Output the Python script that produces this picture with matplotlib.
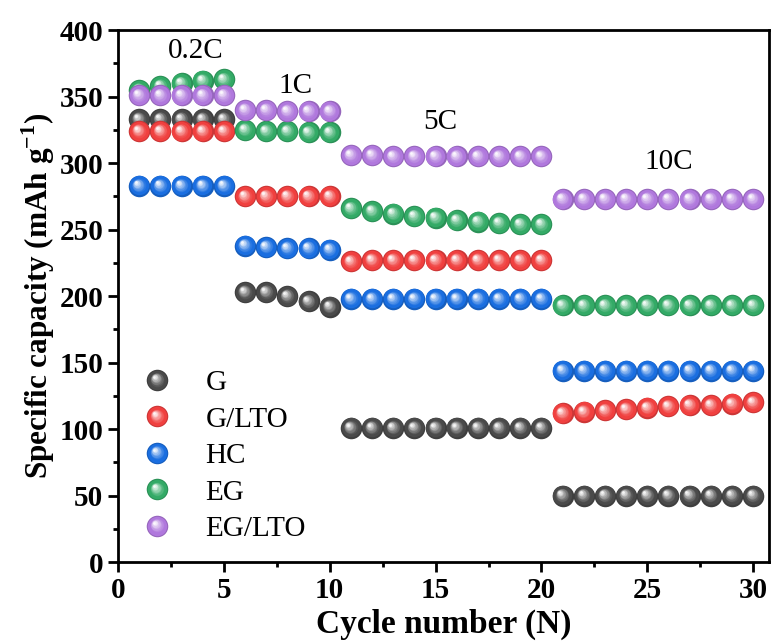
import numpy as np
import matplotlib
matplotlib.use('Agg')
import matplotlib.pyplot as plt
from matplotlib.lines import Line2D
from matplotlib.legend_handler import HandlerBase
from matplotlib.transforms import offset_copy
from matplotlib.ticker import MultipleLocator
import matplotlib.colors as mcolors

plt.rcParams['font.family'] = ['Liberation Serif', 'DejaVu Serif']
plt.rcParams['mathtext.fontset'] = 'custom'
plt.rcParams['mathtext.rm'] = 'Liberation Serif'
plt.rcParams['mathtext.bf'] = 'Liberation Serif:bold'

# cycle numbers
cycles = np.arange(1, 31)

# capacities (mAh g-1)
g = [333, 333, 333, 333, 333,
     203, 203, 200, 196, 192,
     101, 101, 101, 101, 101, 101, 101, 101, 101, 101,
     50, 50, 50, 50, 50, 50, 50, 50, 50, 50]
g_lto = [324, 324, 324, 324, 324,
         275, 275, 275, 275, 275,
         226, 227, 227, 227, 227, 227, 227, 227, 227, 227,
         112, 113, 114, 115, 116, 117, 118, 118, 119, 120]
hc = [283, 283, 283, 283, 283,
      238, 237, 236, 236, 235,
      198, 198, 198, 198, 198, 198, 198, 198, 198, 198,
      144, 144, 144, 144, 144, 144, 144, 144, 144, 144]
eg = [355, 358, 360, 362, 363,
      325, 324, 324, 323, 323,
      266, 264, 262, 260, 259, 257, 256, 255, 254, 254,
      193, 193, 193, 193, 193, 193, 193, 193, 193, 193]
eg_lto = [351, 351, 351, 351, 351,
          340, 340, 339, 339, 339,
          306, 306, 305, 305, 305, 305, 305, 305, 305, 305,
          273, 273, 273, 273, 273, 273, 273, 273, 273, 273]

names = ['G', 'G/LTO', 'HC', 'EG', 'EG/LTO']
series = [g, g_lto, hc, eg, eg_lto]
colors = ['#4a4a4a', '#f0403f', '#1a6ee0', '#33aa66', '#b078dd']

rates = ['0.2C', '1C', '5C', '10C']
rate_x = [3.65, 8.4, 15.2, 26.0]
rate_y = [384, 358, 331, 301]

MS = 15.5


def shade(c, t):
    # blend a colour toward white (t>0) or black (t<0)
    c = np.array(mcolors.to_rgb(c))
    if t >= 0:
        return tuple(c + (1 - c) * t)
    return tuple(c * (1 + t))


def ball_layers(ms):
    # (size, blend, dx, dy) for a shaded sphere look
    out = [(ms, -0.15, 0, 0), (ms * 0.9, 0.0, -0.2, 0.2)]
    n = 9
    for i in range(1, n + 1):
        t = i / n
        out.append((ms * (0.7 - 0.58 * t), 0.95 * t ** 1.2, -2.3 * t, 2.3 * t))
    return out


def draw_balls(ax, x, y, color, z):
    for s, b, dx, dy in ball_layers(MS):
        tr = offset_copy(ax.transData, fig=ax.figure, x=dx, y=dy, units='points')
        ax.plot(x, y, 'o', ms=s, mfc=shade(color, b), mec='none',
                transform=tr, zorder=z, clip_on=False)


class BallHandler(HandlerBase):
    def create_artists(self, legend, orig_handle, xdescent, ydescent,
                       width, height, fontsize, trans):
        cx = width / 2 - xdescent
        cy = height / 2 - ydescent
        arts = []
        for s, b, dx, dy in ball_layers(MS):
            ln = Line2D([cx + dx], [cy + dy], marker='o', ms=s, ls='none',
                        mfc=shade(orig_handle.get_color(), b), mec='none')
            ln.set_transform(trans)
            arts.append(ln)
        return arts


fig = plt.figure(figsize=(7.75, 6.44), dpi=100)
ax = fig.add_axes([0.1523, 0.1273, 0.84, 0.826])

for i, (vals, c) in enumerate(zip(series, colors)):
    draw_balls(ax, cycles, vals, c, 3 + i)

for t, xx, yy in zip(rates, rate_x, rate_y):
    ax.text(xx, yy, t, fontsize=21, ha='center', va='center')

ax.set_xlim(0, 30.75)
ax.set_ylim(0, 400)
ax.xaxis.set_major_locator(MultipleLocator(5))
ax.xaxis.set_minor_locator(MultipleLocator(2.5))
ax.yaxis.set_major_locator(MultipleLocator(50))
ax.yaxis.set_minor_locator(MultipleLocator(25))
ax.tick_params(which='both', direction='out', width=2, top=False, right=False)
ax.tick_params(which='major', length=7)
ax.tick_params(which='minor', length=3.5)
for lab in ax.get_xticklabels() + ax.get_yticklabels():
    lab.set_fontsize(21)
    lab.set_fontweight('bold')
for sp in ax.spines.values():
    sp.set_linewidth(2)

ax.set_xlabel('Cycle number (N)', fontsize=24, fontweight='bold', labelpad=4)
ax.set_ylabel(r'Specific capacity (mAh g$^{\mathbf{-1}}$)', fontsize=22.5,
              fontweight='bold')
ax.yaxis.set_label_coords(-0.094, 0.5)

handles = [Line2D([], [], color=c) for c in colors]
ax.legend(handles, names, handler_map={Line2D: BallHandler()},
          loc='upper left', bbox_to_anchor=(0.0, 0.40), frameon=False,
          fontsize=21, handlelength=1.3, handletextpad=1.0, labelspacing=0.345,
          borderaxespad=0.3)

fig.savefig('out.png', dpi=100)
